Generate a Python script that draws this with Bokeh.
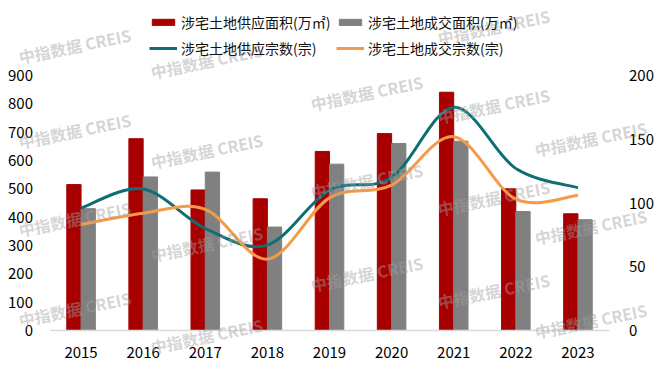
import numpy as np
from bokeh.plotting import figure
from bokeh.models import Range1d, LinearAxis, FixedTicker, Legend, LegendItem, Label
from bokeh.embed import file_html
from bokeh.resources import INLINE

years = ["2015", "2016", "2017", "2018", "2019", "2020", "2021", "2022", "2023"]
supply_area = [515, 677, 496, 465, 632, 695, 841, 500, 412]
deal_area = [430, 542, 559, 365, 587, 660, 668, 420, 391]
supply_count = [96, 111, 80, 67, 110, 120, 175, 127, 112]
deal_count = [83, 92, 95, 56, 104, 114, 152, 103, 106]

left_ticks = [0, 100, 200, 300, 400, 500, 600, 700, 800, 900]
right_ticks = [0, 50, 100, 150, 200]
LEFT_MAX, RIGHT_MAX = 900, 200

RED = "#a80000"
GRAY = "#808080"
TEAL = "#0e6e73"
ORANGE = "#f59b48"
FONT = "Noto Sans CJK SC"

# layout in canvas pixels
W, H = 660, 370
PLOT_L, PLOT_R = 49.5, 608.5        # plot area left / right (categories -0.5 .. 8.5)
ZERO_Y, TOP_Y = 330, 75             # y of value 0 and of the top tick
n = len(years)
px_per_cat = (PLOT_R - PLOT_L) / n
x_lo = -0.5 - PLOT_L / px_per_cat
x_hi = n - 0.5 + (W - PLOT_R) / px_per_cat
ax_px = ZERO_Y - TOP_Y
y_lo_frac = -(H - ZERO_Y) / ax_px
y_hi_frac = ZERO_Y / ax_px

p = figure(width=W, height=H, output_backend="svg", toolbar_location=None,
           x_range=Range1d(x_lo, x_hi),
           y_range=Range1d(LEFT_MAX * y_lo_frac, LEFT_MAX * y_hi_frac),
           min_border=0)
p.extra_y_ranges = {"right": Range1d(RIGHT_MAX * y_lo_frac, RIGHT_MAX * y_hi_frac)}
p.outline_line_color = None
p.grid.visible = False
p.background_fill_color = "white"
p.border_fill_color = "white"
p.axis.visible = False

xi = np.arange(n)
bw = 0.23
r_red = p.vbar(x=xi - bw / 2, top=supply_area, width=bw, color=RED)
r_gray = p.vbar(x=xi + bw / 2, top=deal_area, width=bw, color=GRAY)


def bezier_parts(vals):
    m = len(vals)
    y = np.array(vals, dtype=float)
    x = np.arange(m, dtype=float)
    x0, y0, x1, y1, cx0, cy0, cx1, cy1 = [], [], [], [], [], [], [], []
    for i in range(m - 1):
        im = max(i - 1, 0)
        ip2 = min(i + 2, m - 1)
        x0.append(x[i]); y0.append(y[i])
        x1.append(x[i + 1]); y1.append(y[i + 1])
        cx0.append(x[i] + (x[i + 1] - x[im]) / 6); cy0.append(y[i] + (y[i + 1] - y[im]) / 6)
        cx1.append(x[i + 1] - (x[ip2] - x[i]) / 6); cy1.append(y[i + 1] - (y[ip2] - y[i]) / 6)
    return dict(x0=x0, y0=y0, x1=x1, y1=y1, cx0=cx0, cy0=cy0, cx1=cx1, cy1=cy1)


r_teal = p.bezier(**bezier_parts(supply_count), line_color=TEAL, line_width=3, y_range_name="right")
r_orange = p.bezier(**bezier_parts(deal_count), line_color=ORANGE, line_width=3, y_range_name="right")

# axes drawn at fixed positions inside the frame
xa = LinearAxis(ticker=FixedTicker(ticks=list(xi)), fixed_location=0, bounds=(-0.5, n - 0.5),
                major_label_overrides={int(i): y for i, y in zip(xi, years)})
la = LinearAxis(ticker=FixedTicker(ticks=left_ticks), fixed_location=-0.5)
ra = LinearAxis(y_range_name="right", ticker=FixedTicker(ticks=right_ticks), fixed_location=n - 0.5)
p.add_layout(xa, "below")
p.add_layout(la, "left")
p.add_layout(ra, "right")

for ax in [xa, la, ra]:
    ax.major_tick_line_color = None
    ax.minor_tick_line_color = None
    ax.major_label_text_font = FONT
    ax.major_label_text_font_size = "15px"
    ax.major_label_text_color = "#000000"
    ax.major_label_standoff = 14
for ax in [la, ra]:
    ax.axis_line_color = None
la.major_label_standoff = 11
xa.axis_line_color = "#d9d9d9"
xa.axis_line_width = 1.5
xa.major_label_standoff = 10


def mk_legend(items, loc):
    return Legend(items=items, location=loc, orientation="horizontal",
                  glyph_width=28, glyph_height=8, label_width=150, label_height=20,
                  label_standoff=4, spacing=5, padding=0, margin=0,
                  label_text_font=FONT, label_text_font_size="14px", label_text_color="#111111",
                  border_line_color=None, background_fill_alpha=0)


lg1 = mk_legend([LegendItem(label="涉宅土地供应面积(万㎡)", renderers=[r_red]),
                 LegendItem(label="涉宅土地成交面积(万㎡)", renderers=[r_gray])], (149, 338))
lg2 = mk_legend([LegendItem(label="涉宅土地供应宗数(宗)", renderers=[r_teal]),
                 LegendItem(label="涉宅土地成交宗数(宗)", renderers=[r_orange])], (149, 312))
p.add_layout(lg1, "center")
p.add_layout(lg2, "center")

# watermarks: centers in canvas pixels
wm = [(76, 45), (76, 130), (76, 218), (76, 308),
      (208, 60), (208, 150), (208, 243), (208, 335),
      (368, 92), (368, 180), (368, 273),
      (495, 26), (495, 105), (495, 197), (495, 290),
      (592, 138), (592, 226), (592, 320)]
for ix, iy in wm:
    p.add_layout(Label(x=ix, y=H - iy, x_units="screen", y_units="screen",
                       text="中指数据  CREIS", text_font=FONT, text_font_size="16px",
                       text_font_style="bold", text_color="#a0a0a0", text_alpha=0.45,
                       text_align="center", text_baseline="middle", angle=0.2))

open("out.html", "w").write(file_html(p, INLINE))
